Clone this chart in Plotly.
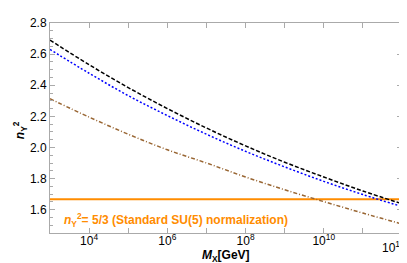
import plotly.graph_objects as go

log_mx = [3, 4, 5, 6, 7, 8, 9, 10, 11, 12]
mx = [10 ** v for v in log_mx]
black_vals = [2.69, 2.532, 2.385, 2.250, 2.125, 2.010, 1.905, 1.810, 1.720, 1.638]
blue_vals = [2.63, 2.477, 2.333, 2.205, 2.085, 1.975, 1.875, 1.782, 1.697, 1.620]
brown_vals = [2.313, 2.195, 2.085, 1.985, 1.900, 1.810, 1.728, 1.652, 1.578, 1.508]
su5_value = 5 / 3

x_tickvals = [10 ** k for k in range(3, 13)]
x_ticktext = ["", "10<sup>4</sup>", "", "10<sup>6</sup>", "", "10<sup>8</sup>", "",
              "10<sup>10</sup>", "", ""]
last_x_label = "10<sup>12</sup>"
last_x_label_pos = 11.78  # log10 position of the last label's centre
y_tickvals = [1.6, 1.8, 2.0, 2.2, 2.4, 2.6, 2.8]
y_ticktext = ["1.6", "1.8", "2.0", "2.2", "2.4", "2.6", "2.8"]

font_family = "Liberation Sans, Arial"

fig = go.Figure()
fig.add_trace(go.Scatter(x=[10 ** 3, 10 ** 12], y=[su5_value, su5_value], mode="lines",
                         line=dict(color="#FF8C00", width=2), showlegend=False))
fig.add_trace(go.Scatter(x=mx, y=brown_vals, mode="lines", line_shape="spline",
                         line=dict(color="rgb(153,102,51)", width=1.5, dash="4px,2px,1px,2px"),
                         showlegend=False))
fig.add_trace(go.Scatter(x=mx, y=blue_vals, mode="lines", line_shape="spline",
                         line=dict(color="rgb(0,0,255)", width=1.5, dash="2px,2px"),
                         showlegend=False))
fig.add_trace(go.Scatter(x=mx, y=black_vals, mode="lines", line_shape="spline",
                         line=dict(color="black", width=1.5, dash="4px,2px"),
                         showlegend=False))

axis_common = dict(showgrid=False, zeroline=False, showline=True, linecolor="#AAAAAA",
                   linewidth=1, mirror="ticks", ticks="inside", tickcolor="#AAAAAA",
                   tickfont=dict(family=font_family, size=12, color="black"))

fig.update_xaxes(type="log", range=[3, 12], tickvals=x_tickvals, ticktext=x_ticktext,
                 ticklen=5, ticklabelstandoff=-3, **axis_common)
fig.update_yaxes(range=[1.45, 2.8], tickvals=y_tickvals, ticktext=y_ticktext, ticklen=5,
                 minor=dict(dtick=0.05, ticks="inside", ticklen=3, tickcolor="#AAAAAA"),
                 **axis_common)

fig.add_annotation(text=last_x_label, xref="x", yref="paper", x=last_x_label_pos, y=0,
                   yshift=-4, xanchor="center", yanchor="top", showarrow=False,
                   font=dict(family=font_family, size=12, color="black"))
fig.add_annotation(text="<b><i>n</i><sub>Y</sub><sup>2</sup>= 5/3 (Standard SU(5) normalization)</b>",
                   xref="paper", yref="y", x=0.035, y=1.535, xanchor="left", yanchor="middle",
                   showarrow=False, font=dict(family=font_family, size=12, color="#FF8C00"))
fig.add_annotation(text="<b><i>n</i><sub>Y</sub><sup>2</sup></b>", textangle=-90,
                   xref="paper", yref="paper", x=-0.085, y=0.49, xanchor="center", yanchor="middle",
                   showarrow=False, font=dict(family=font_family, size=12, color="black"))
fig.add_annotation(text="<b><i>M</i><sub>X</sub>[GeV]</b>",
                   xref="paper", yref="paper", x=0.50, y=-0.155, xanchor="center", yanchor="bottom",
                   showarrow=False, font=dict(family=font_family, size=12, color="black"))

fig.update_layout(width=407, height=263, margin=dict(l=42, r=13, t=8, b=38),
                  plot_bgcolor="white", paper_bgcolor="white")
fig.write_html("out.html")
